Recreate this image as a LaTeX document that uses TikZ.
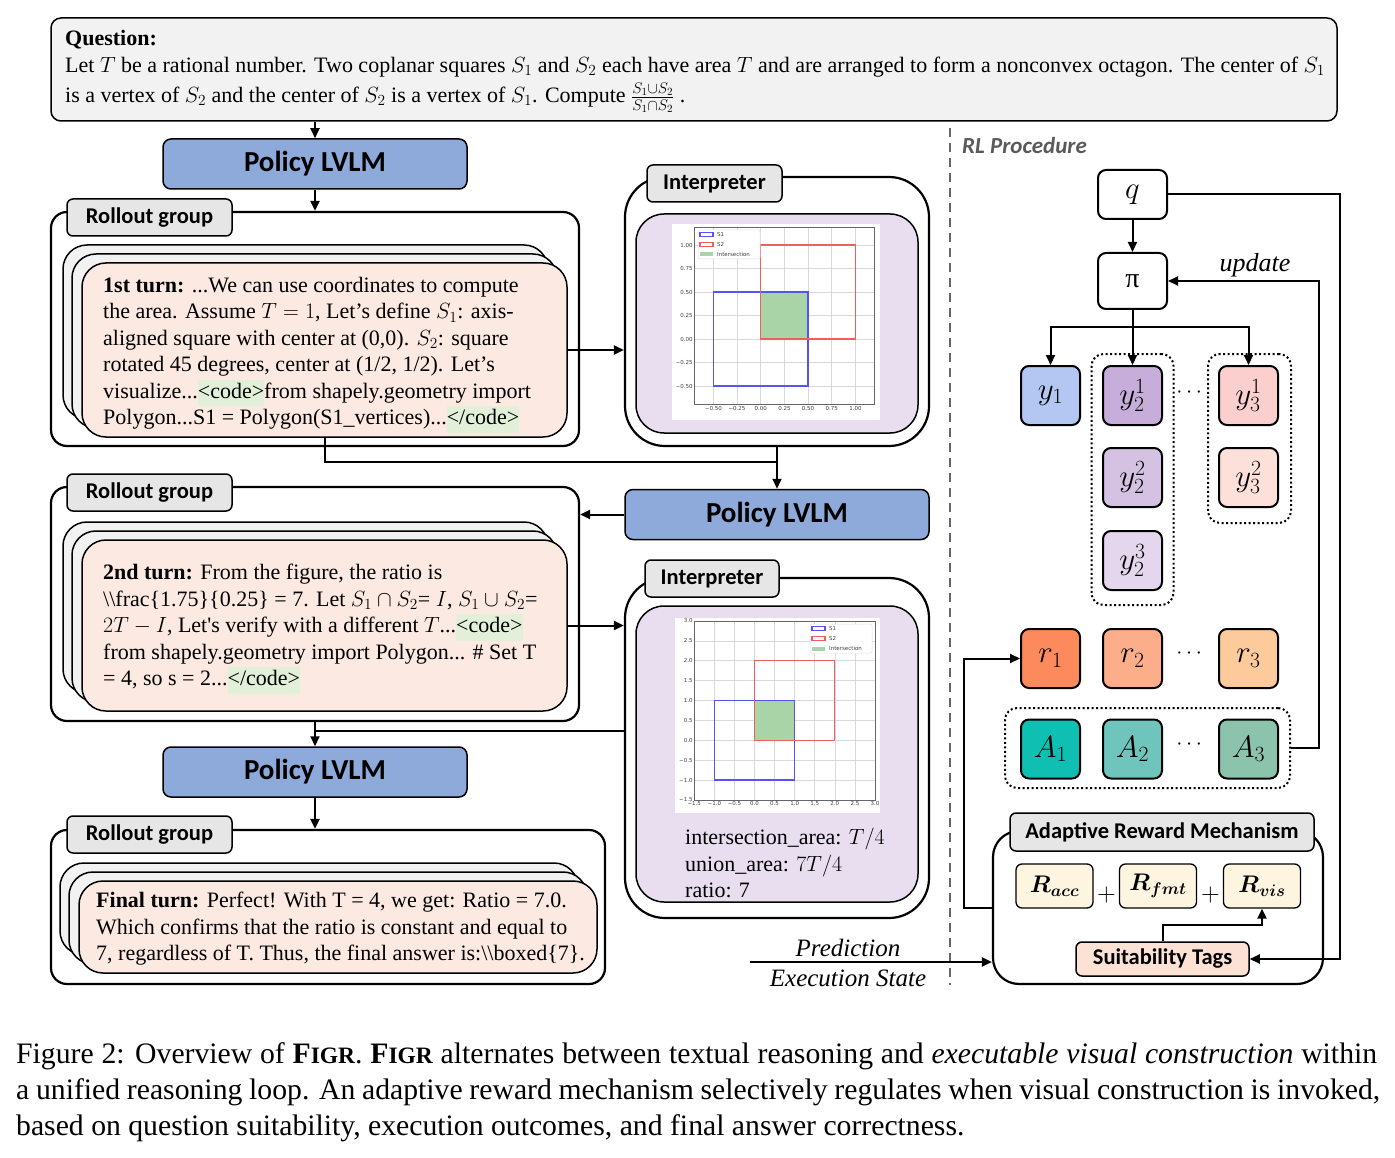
\documentclass[tikz,border=0pt]{standalone}
\usepackage{fix-cm}
\usepackage{amsmath}
\usepackage{bm}
\usepackage{fontspec}
\setmainfont{Liberation Serif}
\newfontfamily\labelfont{Carlito}
\newfontfamily\plotfont{DejaVu Sans}
\usepackage{xcolor}
\usepackage{tikz}
\usetikzlibrary{arrows.meta}
\definecolor{questgray}{RGB}{242,242,242}
\definecolor{policyblue}{RGB}{142,170,219}
\definecolor{tabgray}{RGB}{230,230,230}
\definecolor{cardgray}{RGB}{242,242,242}
\definecolor{cardpeach}{RGB}{251,233,226}
\definecolor{codegreen}{RGB}{226,240,217}
\definecolor{interplilac}{RGB}{232,222,240}
\definecolor{yblue}{RGB}{180,199,243}
\definecolor{ypurpleA}{RGB}{199,173,218}
\definecolor{ypurpleB}{RGB}{213,194,226}
\definecolor{ypurpleC}{RGB}{227,214,237}
\definecolor{ypinkA}{RGB}{252,207,207}
\definecolor{ypinkB}{RGB}{253,224,218}
\definecolor{rorangeA}{RGB}{253,138,92}
\definecolor{rorangeB}{RGB}{252,174,138}
\definecolor{rorangeC}{RGB}{253,202,156}
\definecolor{atealA}{RGB}{15,191,178}
\definecolor{atealB}{RGB}{111,197,187}
\definecolor{atealC}{RGB}{140,195,173}
\definecolor{rewardcream}{RGB}{253,245,223}
\definecolor{tagpeach}{RGB}{251,226,212}
\definecolor{rlgray}{RGB}{90,90,90}
\definecolor{plotblue}{RGB}{85,85,245}
\definecolor{plotred}{RGB}{238,95,95}
\definecolor{plotgreen}{RGB}{168,212,168}
\newcommand{\codetag}[1]{{\setlength{\fboxsep}{0pt}\colorbox{codegreen}{\strut#1}}}
\newcommand{\figrname}{{\bfseries F{\fontsize{23.5}{23.5}\selectfont IGR}}}
\newcommand{\backcards}[4]{%
  \draw[cardback] (#1-19,#2-18) rectangle (#3-19,#4-18);%
  \draw[cardback] (#1-10,#2-9) rectangle (#3-10,#4-9);%
}
\newcommand{\plotlegend}[3]{%
  \draw[legendframe] (#1,#2) rectangle ++(62,29);%
  \draw[s1edge] (#1+2,#2+2.5) rectangle ++(13,4);%
  \draw[s2edge] (#1+2,#2+12.5) rectangle ++(13,4);%
  \fill[plotgreen] (#1+2,#2+22.5) rectangle ++(13,4);%
  \node[legendlabel] (#3s1) at (#1+19,#2+4.5) {S1};%
  \node[legendlabel] (#3s2) at (#1+19,#2+14.5) {S2};%
  \node[legendlabel] (#3in) at (#1+19,#2+24.5) {Intersection};%
}
\tikzset{
  link/.style={line width=2pt},
  linkarrow/.style={line width=2pt,-{Triangle[length=10pt,width=9pt]}},
  questbox/.style={draw,line width=1.5pt,fill=questgray,rounded corners=10pt,inner sep=0pt},
  policybox/.style={draw,line width=1.5pt,fill=policyblue,rounded corners=8pt,minimum width=304pt,minimum height=50pt,inner sep=0pt,font=\labelfont\bfseries\fontsize{29}{29}\selectfont},
  groupframe/.style={draw,line width=2.2pt,rounded corners=16pt,inner sep=0pt},
  tablabel/.style={draw,line width=1.5pt,fill=tabgray,rounded corners=6pt,inner sep=0pt,minimum height=37pt,font=\labelfont\bfseries\fontsize{22.5}{22.5}\selectfont},
  cardback/.style={draw,line width=1.5pt,fill=cardgray,rounded corners=24pt},
  cardfront/.style={draw,line width=1.5pt,fill=cardpeach,rounded corners=24pt,inner sep=0pt},
  cardtext/.style={align=left,inner sep=0pt,font=\fontsize{22}{26.5}\selectfont},
  interpframe/.style={draw,line width=2.2pt,rounded corners=40pt,inner sep=0pt},
  interpin/.style={draw,line width=1.5pt,fill=interplilac,rounded corners=28pt,inner sep=0pt},
  plotgrid/.style={draw=black!15,line width=0.6pt},
  plotframe/.style={draw=black!60,line width=0.8pt},
  s1edge/.style={draw=plotblue,line width=1.3pt},
  s2edge/.style={draw=plotred,line width=1.3pt},
  ticklabel/.style={inner sep=1.5pt,text=black!75,font=\plotfont\fontsize{5.5}{5.5}\selectfont},
  legendframe/.style={draw=black!12,fill=white,line width=0.5pt,rounded corners=1.5pt},
  legendlabel/.style={anchor=west,inner sep=0pt,text=black!75,font=\plotfont\fontsize{5.5}{5.5}\selectfont},
  rlbox/.style={draw,line width=2pt,rounded corners=8pt,minimum width=59pt,minimum height=59pt,inner sep=0pt,font=\fontsize{31}{31}\selectfont},
  dotbox/.style={draw,line width=2pt,dash pattern=on 2pt off 2.5pt,rounded corners=12pt,inner sep=0pt},
  rewardbox/.style={draw,line width=1.3pt,fill=rewardcream,rounded corners=6pt,minimum width=77pt,minimum height=44pt,inner sep=0pt,font=\fontsize{24}{24}\selectfont},
  flowlabel/.style={inner sep=0pt,font=\itshape\fontsize{25}{25}\selectfont},
  divider/.style={draw=black!60,line width=2pt,dash pattern=on 9pt off 6pt},
  captext/.style={anchor=base west,inner sep=0pt,font=\fontsize{29.7}{36}\selectfont}
}
\begin{document}
\begin{tikzpicture}[x=1pt,y=-1pt]
  \fill[white] (0,0) rectangle (1395,1158);
  \useasboundingbox (0,0) rectangle (1395,1158);

  % question
  \node[questbox,minimum width=1286pt,minimum height=103pt] (quest) at (694,69.5) {};
  \node[cardtext,anchor=west] (questtxt) at (65,71.5) {\textbf{Question:}\\
    Let $T$ be a rational number. Two coplanar squares $S_1$ and $S_2$ each have area $T$ and are arranged to form a nonconvex octagon. The center of $S_1$\\[4pt]
    is a vertex of $S_2$ and the center of $S_2$ is a vertex of $S_1$. Compute $\frac{S_1\cup S_2}{S_1\cap S_2}$ .};

  % first turn
  \node[policybox] (pol1) at (315,164) {Policy LVLM};
  \draw[linkarrow] (quest.south -| pol1.north) -- (pol1.north);
  \node[groupframe,minimum width=528pt,minimum height=234pt] (grp1) at (315,329) {};
  \node[tablabel,minimum width=165pt] (tab1) at (149.5,217.5) {Rollout group};
  \draw[linkarrow] (pol1.south) -- (grp1.north);
  \backcards{82}{263}{567}{437}
  \node[cardfront,minimum width=485pt,minimum height=174pt] (card1) at (324.5,350) {};
  \node[cardtext,anchor=west] (card1txt) at (103,355) {\textbf{1st turn:} ...We can use coordinates to compute\\
    the area. Assume $T=1$, Let's define $S_1$: axis-\\
    aligned square with center at (0,0). $S_2$: square\\
    rotated 45 degrees, center at (1/2, 1/2). Let's\\
    visualize...\codetag{<code>}from shapely.geometry import\\
    Polygon...S1 = Polygon(S1\_vertices)...\codetag{</code>}};

  \node[interpframe,minimum width=304pt,minimum height=269pt] (int1) at (777,311.5) {};
  \node[tablabel,minimum width=135pt] (int1tab) at (714.5,183.5) {Interpreter};
  \node[interpin,minimum width=282pt,minimum height=219pt] (int1in) at (777,323.5) {};
  \begin{scope}[shift={(760.7,339)},x=94.7pt,y=94pt]
    \fill[white] (-0.937,-0.862) rectangle (1.26,1.223);
    \foreach \v in {-0.5,-0.25,0,0.25,0.5,0.75,1} {
      \draw[plotgrid] (\v,-0.7) -- (\v,1.19);
      \draw[plotgrid] (-0.7,\v) -- (1.2,\v);
    }
    \fill[plotgreen] (0,0) rectangle (0.5,0.5);
    \draw[s1edge] (-0.5,-0.5) rectangle (0.5,0.5);
    \draw[s2edge] (0,0) rectangle (1,1);
    \draw[plotframe] (-0.7,-0.7) rectangle (1.2,1.19);
    \foreach \v/\t [count=\i] in {-0.5/−0.50,-0.25/−0.25,0/0.00,0.25/0.25,0.5/0.50,0.75/0.75,1/1.00} {
      \node[ticklabel,anchor=north] (pax\i) at (\v,-0.7) {\t};
      \node[ticklabel,anchor=east] (pay\i) at (-0.7,\v) {\t};
    }
  \end{scope}
  \plotlegend{698}{230}{pa}
  \draw[linkarrow] (card1.east) -- (card1.east -| int1.west);

  % second turn
  \coordinate (join1) at (777,462);
  \draw[link] (card1.south) |- (join1);
  \node[policybox] (pol2) at (777,514.5) {Policy LVLM};
  \draw[linkarrow] (int1.south) -- (pol2.north);
  \node[groupframe,minimum width=528pt,minimum height=234pt] (grp2) at (315,604) {};
  \node[tablabel,minimum width=165pt] (tab2) at (149.5,492.5) {Rollout group};
  \draw[linkarrow] (pol2.west) -- (pol2.west -| grp2.east);
  \backcards{82}{540}{567}{711}
  \node[cardfront,minimum width=485pt,minimum height=171pt] (card2) at (324.5,625.5) {};
  \node[cardtext,anchor=west] (card2txt) at (103,629) {\textbf{2nd turn:} From the figure, the ratio is\\
    \textbackslash\textbackslash frac\{1.75\}\{0.25\} = 7. Let $S_1\cap S_2$= $I$, $S_1\cup S_2$=\\
    $2T-I$, Let\textquotesingle s verify with a different $T$...\codetag{<code>}\\
    from shapely.geometry import Polygon... \# Set T\\
    = 4, so s = 2...\codetag{</code>}};

  \node[interpframe,minimum width=304pt,minimum height=340pt] (int2) at (777,748) {};
  \node[tablabel,minimum width=134pt] (int2tab) at (712,578.5) {Interpreter};
  \node[interpin,minimum width=282pt,minimum height=296pt] (int2in) at (777,754) {};
  \begin{scope}[shift={(754.5,740.3)},x=40.15pt,y=39.8pt]
    \fill[white] (-1.98,-1.83) rectangle (3.126,3.07);
    \foreach \v in {-1.5,-1,...,3} {
      \draw[plotgrid] (\v,-1.5) -- (\v,3);
      \draw[plotgrid] (-1.5,\v) -- (3,\v);
    }
    \fill[plotgreen] (0,0) rectangle (1,1);
    \draw[s1edge] (-1,-1) rectangle (1,1);
    \draw[s2edge] (0,0) rectangle (2,2);
    \draw[plotframe] (-1.5,-1.5) rectangle (3,3);
    \foreach \v/\t [count=\i] in {-1.5/−1.5,-1/−1.0,-0.5/−0.5,0/0.0,0.5/0.5,1/1.0,1.5/1.5,2/2.0,2.5/2.5,3/3.0} {
      \node[ticklabel,anchor=north] (pbx\i) at (\v,-1.5) {\t};
      \node[ticklabel,anchor=east] (pby\i) at (-1.5,\v) {\t};
    }
  \end{scope}
  \plotlegend{810}{624}{pb}
  \node[cardtext,anchor=west] (int2txt) at (685,863) {intersection\_area: $T/4$\\
    union\_area: $7T/4$\\
    ratio: 7};
  \draw[linkarrow] (card2.east) -- (card2.east -| int2.west);

  % final turn
  \node[policybox] (pol3) at (315,772) {Policy LVLM};
  \draw[linkarrow] (grp2.south) -- (pol3.north);
  \coordinate (join2) at (315,731);
  \draw[link] (join2 -| int2.west) -- (join2);
  \node[groupframe,minimum width=554pt,minimum height=154pt] (grp3) at (328,907) {};
  \node[tablabel,minimum width=165pt] (tab3) at (149.5,834.5) {Rollout group};
  \draw[linkarrow] (pol3.south) -- (pol3.south |- grp3.north);
  \backcards{79}{881}{597}{973}
  \node[cardfront,minimum width=518pt,minimum height=92pt] (card3) at (338,927) {};
  \node[cardtext,anchor=west] (card3txt) at (96,929) {\textbf{Final turn:} Perfect! With T = 4, we get: Ratio = 7.0.\\
    Which confirms that the ratio is constant and equal to\\
    7, regardless of T. Thus, the final answer is:\textbackslash\textbackslash boxed\{7\}.};

  % RL procedure
  \draw[divider] (950,128) -- (950,985);
  \node[anchor=west,inner sep=0pt,text=rlgray,font=\labelfont\bfseries\itshape\fontsize{23}{23}\selectfont] (rltitle) at (962,146) {RL Procedure};
  \node[rlbox,minimum width=69pt,minimum height=49pt] (q) at (1132.5,194.5) {$q$};
  \node[rlbox,minimum width=69pt,minimum height=56pt] (pi) at (1132.5,281) {\fontsize{28}{28}\selectfont π};
  \draw[linkarrow] (q.south) -- (pi.north);
  \node[dotbox,minimum width=82pt,minimum height=251pt] (y2grp) at (1132.5,479.5) {};
  \node[dotbox,minimum width=83pt,minimum height=169pt] (y3grp) at (1249.5,438.5) {};
  \node[rlbox,fill=yblue] (y1) at (1050.5,395.5) {$y_1$};
  \node[rlbox,fill=ypurpleA] (y21) at (1132.5,395.5) {$y_2^1$};
  \node[rlbox,fill=ypurpleB] (y22) at (1132.5,477.5) {$y_2^2$};
  \node[rlbox,fill=ypurpleC] (y23) at (1132.5,560.5) {$y_2^3$};
  \node[rlbox,fill=ypinkA] (y31) at (1248.5,395.5) {$y_3^1$};
  \node[rlbox,fill=ypinkB] (y32) at (1248.5,477.5) {$y_3^2$};
  \node[font=\fontsize{22}{22}\selectfont] (ydots) at (1191,393) {$\cdots$};
  \coordinate (fork) at (1132.5,327);
  \draw[linkarrow] (pi.south) -- (y21.north);
  \draw[linkarrow] (fork) -| (y1.north);
  \draw[linkarrow] (fork) -| (y31.north);

  \node[rlbox,fill=rorangeA] (r1) at (1050.5,658.5) {$r_1$};
  \node[rlbox,fill=rorangeB] (r2) at (1132.5,658.5) {$r_2$};
  \node[rlbox,fill=rorangeC] (r3) at (1248.5,658.5) {$r_3$};
  \node[font=\fontsize{22}{22}\selectfont] (rdots) at (1191,654) {$\cdots$};
  \node[dotbox,minimum width=285pt,minimum height=80pt] (agrp) at (1147.5,748) {};
  \node[rlbox,fill=atealA] (a1) at (1050.5,749) {$A_1$};
  \node[rlbox,fill=atealB] (a2) at (1132.5,749) {$A_2$};
  \node[rlbox,fill=atealC] (a3) at (1248.5,749) {$A_3$};
  \node[font=\fontsize{22}{22}\selectfont] (adots) at (1191,745) {$\cdots$};
  \draw[linkarrow] (agrp.east) -- ++(28,0) |- (pi.east);
  \node[flowlabel,font=\itshape\fontsize{26}{26}\selectfont] (upd) at (1255,265) {update};

  \node[groupframe,rounded corners=26pt,minimum width=330pt,minimum height=153pt] (arm) at (1158,907.5) {};
  \node[tablabel,minimum width=304pt,minimum height=38pt] (armtab) at (1162,832) {Adaptive Reward Mechanism};
  \node[rewardbox] (racc) at (1054.5,886) {$\bm{R_{acc}}$};
  \node[rewardbox] (rfmt) at (1158,886) {$\bm{R_{fmt}}$};
  \node[rewardbox] (rvis) at (1262,886) {$\bm{R_{vis}}$};
  \node[font=\fontsize{26}{26}\selectfont] (plusa) at (1106.5,895) {$+$};
  \node[font=\fontsize{26}{26}\selectfont] (plusb) at (1210.5,895) {$+$};
  \node[tablabel,fill=tagpeach,minimum width=173pt,minimum height=34pt] (tags) at (1162.5,959) {Suitability Tags};
  \draw[linkarrow] (tags.north) -- ++(0,-16) -| (rvis.south);
  \draw[linkarrow] (q.east) -- ++(172,0) |- (tags.east);
  \draw[linkarrow] (arm.west) -- ++(-28,0) |- (r1.west);
  \coordinate (predstart) at (750,962);
  \draw[linkarrow] (predstart) -- (predstart -| arm.west);
  \node[flowlabel] (predlbl) at (848,948) {Prediction};
  \node[flowlabel] (execlbl) at (848,978) {Execution State};

  % caption
  \node[captext] (cap1) at (16,1063) {\makebox[1361pt][s]{Figure 2: Overview of \figrname. \figrname{} alternates between textual reasoning and \emph{executable visual construction} within}};
  \node[captext] (cap2) at (16,1099) {\makebox[1364pt][s]{a unified reasoning loop. An adaptive reward mechanism selectively regulates when visual construction is invoked,}};
  \node[captext] (cap3) at (16,1135) {based on question suitability, execution outcomes, and final answer correctness.};
\end{tikzpicture}
\end{document}
